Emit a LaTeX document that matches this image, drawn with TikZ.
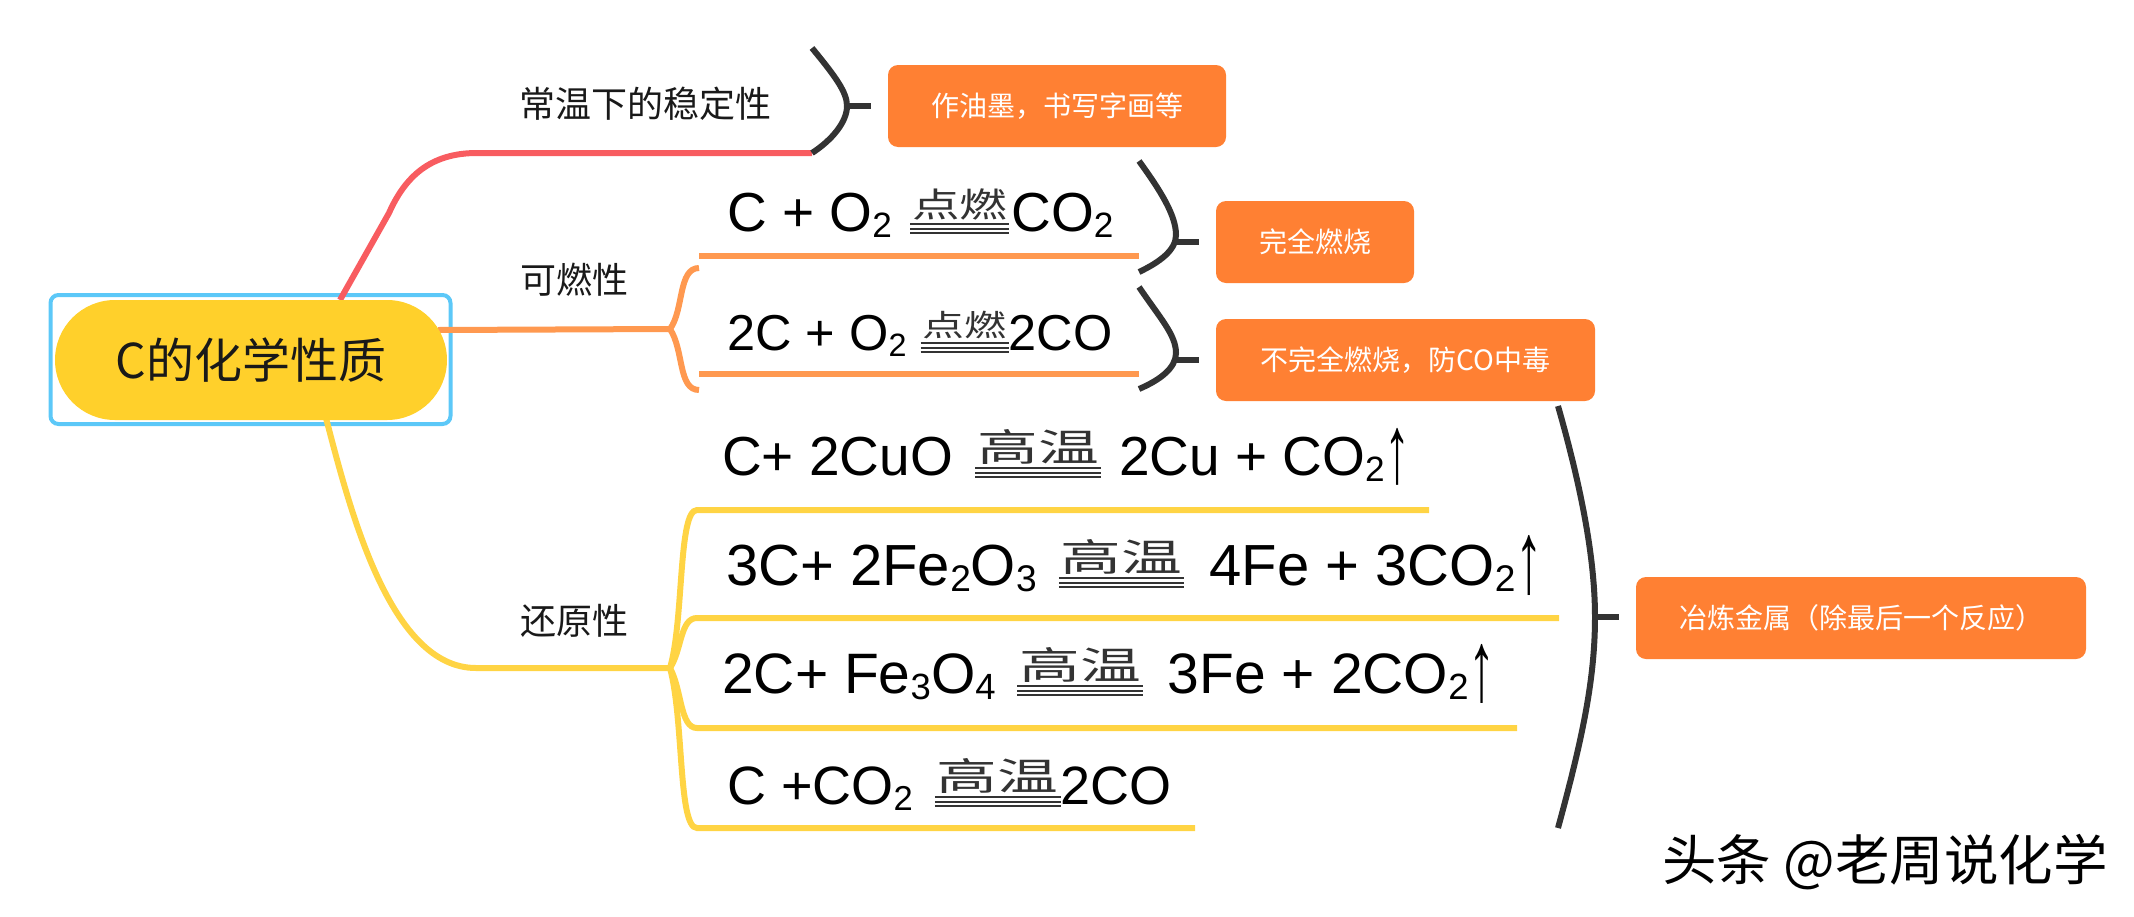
\documentclass[tikz,border=0pt]{standalone}
\usepackage{fontspec}
\usepackage{graphicx}
\usepackage{xcolor}
\setmainfont{Liberation Sans}
\newfontfamily\cjk{Noto Sans CJK SC}
\usetikzlibrary{shapes}
\definecolor{rootyellow}{HTML}{FFD02B}
\definecolor{framblue}{HTML}{5CC8F8}
\definecolor{redline}{HTML}{F85C60}
\definecolor{orangeline}{HTML}{FF9950}
\definecolor{yellowline}{HTML}{FFD444}
\definecolor{notefill}{HTML}{FF8033}
\definecolor{darkline}{HTML}{333333}
\newcommand{\chemlow}[1]{\raisebox{-0.12em}{\scalebox{0.64}{#1}}}
\newcommand{\chemup}{\raisebox{-7pt}{\scalebox{0.95}[1.75]{↑}}}
\newcommand{\condmark}[3]{\raisebox{-3pt}{\vbox{\hbox{\kern2pt\scalebox{#3}[1]{\fontsize{#2}{#2}\cjk\color{darkline}#1}\kern2pt}\kern3pt\color{darkline}\hrule height 2pt\kern2.5pt\hrule height 2pt\kern2.5pt\hrule height 2pt}}}
\tikzset{
    topic/.style={inner sep=0pt,font=\cjk\fontsize{36}{36}\selectfont,text=black!90},
    formula/.style={anchor=base west,inner sep=0pt,font=\fontsize{#1}{#1}\selectfont},
    notebox/.style={fill=notefill,text=white,rounded corners=10pt,inner sep=0pt,font=\cjk\fontsize{28}{28}\selectfont},
    bracket/.style={draw=darkline,line width=6pt},
    redbranch/.style={draw=redline,line width=6pt},
    orangebranch/.style={draw=orangeline,line width=6pt},
    yellowbranch/.style={draw=yellowline,line width=6pt}
}
\begin{document}
\begin{tikzpicture}[x=1pt,y=-1pt]
    \useasboundingbox (0,0) rectangle (2134,916);
    % centre
    \node[draw=framblue,line width=4pt,rounded corners=8pt,minimum width=400pt,minimum height=129pt,inner sep=0pt] (rootframe) at (250.5,359.5) {};
    \coordinate (redstart) at (340,300);
    \coordinate (redend) at (812,153);
    \coordinate (orangestart) at (438,330);
    \coordinate (orangefork) at (670,329);
    \coordinate (yellowstart) at (326,418);
    \coordinate (yellowfork) at (670,668);
    % branches
    \draw[redbranch] (redstart) -- (389,213) .. controls (405,177) and (430,153) .. (477,153) -- (redend);
    \draw[orangebranch] (orangestart) -- (orangefork);
    \draw[orangebranch] (orangefork) .. controls (684,310) and (678,268) .. (699,268);
    \draw[orangebranch] (orangefork) .. controls (684,350) and (678,390) .. (699,390);
    \draw[orangebranch] (699,256) -- (1139,256);
    \draw[orangebranch] (699,374) -- (1139,374);
    \draw[yellowbranch] (yellowstart) .. controls (350,510) and (390,668) .. (476,668) -- (yellowfork);
    \draw[yellowbranch] (yellowfork) .. controls (684,620) and (678,510) .. (697,510) -- (1429,510);
    \draw[yellowbranch] (yellowfork) .. controls (682,650) and (680,618) .. (697,618) -- (1559,618);
    \draw[yellowbranch] (yellowfork) .. controls (682,690) and (680,728) .. (697,728) -- (1517,728);
    \draw[yellowbranch] (yellowfork) .. controls (684,720) and (678,828) .. (697,828) -- (1195,828);
    \node[fill=rootyellow,rounded corners=60pt,minimum width=392pt,minimum height=120pt,inner sep=0pt,font=\cjk\fontsize{48}{48}\selectfont,text=black!90] (root) at (251,360) {C的化学性质};
    % labels
    \node[topic] (stable) at (645,104) {常温下的稳定性};
    \node[topic] (burn) at (574,280) {可燃性};
    \node[topic] (reduce) at (574,621) {还原性};
    % equations
    \node[formula=55] (eqa) at (727,231) {C + O\chemlow{2} \kern3pt\condmark{点燃}{34}{1.4}\kern2pt CO\chemlow{2}};
    \node[formula=50.5] (eqb) at (727,350) {2C + O\chemlow{2} \condmark{点燃}{30}{1.4}2CO};
    \node[formula=55] (eqc) at (722,475) {C+ 2CuO \kern7pt\condmark{高温}{38}{1.6} \kern3pt 2Cu + CO\chemlow{2}\chemup};
    \node[formula=58] (eqd) at (726,585) {3C+ 2Fe\chemlow{2}O\chemlow{3} \kern6pt\condmark{高温}{38}{1.6} \kern9pt 4Fe + 3CO\chemlow{2}\chemup};
    \node[formula=57] (eqe) at (722,693) {2C+ Fe\chemlow{3}O\chemlow{4} \kern6pt\condmark{高温}{38}{1.6} \kern9pt 3Fe + 2CO\chemlow{2}\chemup};
    \node[formula=54] (eqf) at (727,804) {C +CO\chemlow{2} \kern7pt\condmark{高温}{38}{1.6}2CO};
    % notes
    \node[notebox,minimum width=338pt,minimum height=82pt] (usea) at (1057,106) {作油墨\char"FF0C 书写字画等};
    \node[notebox,minimum width=198pt,minimum height=82pt] (useb) at (1315,242) {完全燃烧};
    \node[notebox,minimum width=379pt,minimum height=82pt] (usec) at (1405.5,360) {不完全燃烧\char"FF0C 防CO中毒};
    \node[notebox,minimum width=450pt,minimum height=82pt] (used) at (1861,618) {冶炼金属\char"FF08 除最后一个反应\char"FF09};
    % brackets
    \draw[bracket] (812,48) .. controls (835,76) and (847,92) .. (847,106) .. controls (847,122) and (832,140) .. (812,153);
    \draw[bracket] (847,106) -- (871,106);
    \draw[bracket] (1139,161) .. controls (1160,190) and (1176,215) .. (1176,235) .. controls (1176,250) and (1160,262) .. (1139,272);
    \draw[bracket] (1176,242) -- (1199,242);
    \draw[bracket] (1139,287) .. controls (1160,318) and (1176,335) .. (1176,353) .. controls (1176,368) and (1160,380) .. (1139,389);
    \draw[bracket] (1176,360) -- (1199,360);
    \draw[bracket] (1558,406) .. controls (1582,490) and (1595,560) .. (1595,617) .. controls (1595,680) and (1582,740) .. (1558,828);
    \draw[bracket] (1595,617) -- (1619,617);
    % mark
    \node[inner sep=0pt,font=\cjk\fontsize{54.5}{54.5}\selectfont] (mark) at (1885,862) {头条 @老周说化学};
\end{tikzpicture}
\end{document}
